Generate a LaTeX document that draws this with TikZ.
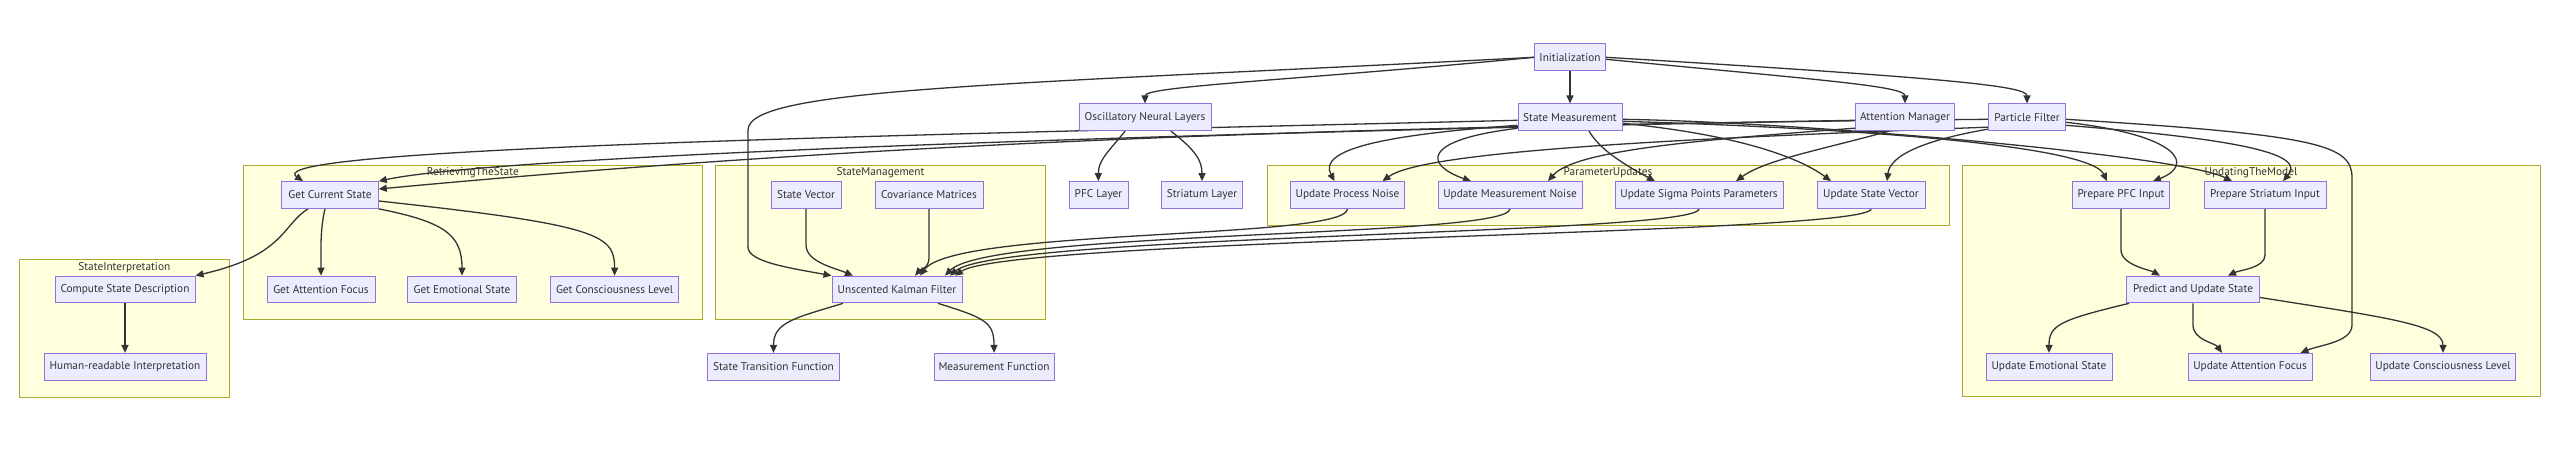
\documentclass[tikz,border=0pt]{standalone}
\usepackage{fontspec}
\setmainfont{PT Sans}
\usetikzlibrary{arrows.meta,calc}
\definecolor{nodefill}{HTML}{ECECFF}
\definecolor{nodeline}{HTML}{9370DB}
\definecolor{clusterfill}{HTML}{FFFFDE}
\definecolor{clusterline}{HTML}{AAAA33}
\definecolor{linkcol}{HTML}{333333}
\pgfdeclarelayer{clusters}
\pgfdeclarelayer{links}
\pgfsetlayers{clusters,links,main}
\begin{document}
\begin{tikzpicture}[x=1pt,y=-1pt,
        box/.style={draw=nodeline,fill=nodefill,line width=1pt,minimum height=26.7pt,
            inner xsep=2pt,inner ysep=0pt,text=linkcol,font=\fontsize{11.3}{13}\selectfont},
        link/.style={draw=linkcol,line width=1.3pt,-{Triangle[length=8pt,width=7pt]}},
        cluster/.style={draw=clusterline,fill=clusterfill,line width=1pt},
        clusterlabel/.style={text=linkcol,inner sep=0pt,font=\fontsize{11.3}{13}\selectfont}]
        \useasboundingbox (0,0) rectangle (2573,460);
        \node[box,minimum width=71] (init) at (1570,57.3) {Initialization};
        \node[box,minimum width=132] (onl) at (1145,117.3) {Oscillatory Neural Layers};
        \node[box,minimum width=104] (sm) at (1570,117.3) {State Measurement};
        \node[box,minimum width=99] (am) at (1905,117.3) {Attention Manager};
        \node[box,minimum width=77] (pf) at (2027,117.3) {Particle Filter};
        \node[box,minimum width=96.5] (gcs) at (330,195) {Get Current State};
        \node[box,minimum width=108] (gaf) at (321,289.5) {Get Attention Focus};
        \node[box,minimum width=108.5] (ges) at (462,289.5) {Get Emotional State};
        \node[box,minimum width=128] (gcl) at (614.6,289.5) {Get Consciousness Level};
        \node[box,minimum width=140] (csd) at (125,289.5) {Compute State Description};
        \node[box,minimum width=162] (hri) at (125,366.7) {Human-readable Interpretation};
        \node[box,minimum width=70] (sv) at (806,195) {State Vector};
        \node[box,minimum width=108] (cm) at (929,195) {Covariance Matrices};
        \node[box,minimum width=130] (ukf) at (897,289.5) {Unscented Kalman Filter};
        \node[box,minimum width=132] (stf) at (773.5,366.7) {State Transition Function};
        \node[box,minimum width=120] (mf) at (994,366.7) {Measurement Function};
        \node[box,minimum width=59] (pfcl) at (1098.5,195) {PFC Layer};
        \node[box,minimum width=81.5] (strl) at (1202,195) {Striatum Layer};
        \node[box,minimum width=114] (upn) at (1347.5,195) {Update Process Noise};
        \node[box,minimum width=144] (umn) at (1510,195) {Update Measurement Noise};
        \node[box,minimum width=168] (usp) at (1699,195) {Update Sigma Points Parameters};
        \node[box,minimum width=108] (usv) at (1871,195) {Update State Vector};
        \node[box,minimum width=97.5] (ppi) at (2121,195) {Prepare PFC Input};
        \node[box,minimum width=122] (psi) at (2265,195) {Prepare Striatum Input};
        \node[box,minimum width=133] (pus) at (2193,289.5) {Predict and Update State};
        \node[box,minimum width=126] (ues) at (2049,366.7) {Update Emotional State};
        \node[box,minimum width=124] (uaf) at (2250,366.7) {Update Attention Focus};
        \node[box,minimum width=145.5] (ucl) at (2443,366.7) {Update Consciousness Level};
        \begin{pgfonlayer}{clusters}
            \fill[white] (0,0) rectangle (2573,460);
            \draw[cluster] (243,165) rectangle (702.5,319.3);
            \draw[cluster] (19,259.3) rectangle (229.6,397.3);
            \draw[cluster] (715.5,165) rectangle (1045.6,319.3);
            \draw[cluster] (1267,165) rectangle (1949,225);
            \draw[cluster] (1962,165) rectangle (2540,396.7);
            \node[clusterlabel] (retrlabel) at (472.8,173) {RetrievingTheState};
            \node[clusterlabel] (interplabel) at (124.3,267.3) {StateInterpretation};
            \node[clusterlabel] (mgmtlabel) at (880.5,173) {StateManagement};
            \node[clusterlabel] (paramlabel) at (1608,173) {ParameterUpdates};
            \node[clusterlabel] (modellabel) at (2251,173) {UpdatingTheModel};
        \end{pgfonlayer}
        \begin{pgfonlayer}{links}
            \draw[link] (init) -- (sm);
            \draw[link] (init.west) .. controls (1300,80) and (1145,86) .. (onl.north);
            \draw[link] (init.west) .. controls (1000,85) and (748,88) .. (748,130) -- (748,247)
                .. controls (748,262) and (790,268) .. (ukf.north west);
            \draw[link] ($(init.east)+(0,2)$) .. controls (1820,80) and (1905,86) .. (am.north);
            \draw[link] (init.east) .. controls (1950,78) and (2027,86) .. (pf.north);
            \draw[link] ($(onl.south)+(-20,0)$) .. controls (1110,150) and (1098,160) .. (pfcl.north);
            \draw[link] ($(onl.south)+(26,0)$) .. controls (1195,150) and (1202,160) .. (strl.north);
            \draw[link] ($(sm.west)+(0,3)$) .. controls (900,135) and (255,148) .. ($(gcs.north)+(-27,0)$);
            \draw[link] ($(am.west)+(0,3)$) .. controls (1200,132) and (500,155) .. (gcs.north east);
            \draw[link] ($(pf.west)+(0,2)$) .. controls (1300,126) and (850,145) .. ($(gcs.east)+(0,-6)$);
            \draw[link] ($(sm.west)+(0,8)$) .. controls (1380,135) and (1318,150) .. ($(upn.north)+(-13,0)$);
            \draw[link] ($(sm.west)+(0,11)$) .. controls (1420,140) and (1425,165) .. ($(umn.north)+(-39,0)$);
            \draw[link] ($(sm.south)+(19,0)$) .. controls (1600,150) and (1625,165) .. ($(usp.north)+(-44,0)$);
            \draw[link] ($(sm.east)+(0,6)$) .. controls (1740,135) and (1800,158) .. ($(usv.north)+(-40,0)$);
            \draw[link] ($(am.south west)+(0,-3)$) .. controls (1700,140) and (1575,150) .. ($(umn.north)+(38,0)$);
            \draw[link] ($(pf.south west)+(0,-4)$) .. controls (1700,138) and (1425,150) .. ($(upn.north)+(35,0)$);
            \draw[link] ($(am.south)+(-16,0)$) .. controls (1820,150) and (1765,160) .. ($(usp.north)+(37,0)$);
            \draw[link] ($(pf.south west)+(0,-2)$) .. controls (1925,140) and (1890,155) .. ($(usv.north)+(16,0)$);
            \draw[link] ($(sm.east)+(0,4)$) .. controls (1850,128) and (2090,145) .. ($(ppi.north)+(-14,0)$);
            \draw[link] ($(sm.east)+(0,2)$) .. controls (1800,122) and (2180,155) .. ($(psi.north)+(-33,0)$);
            \draw[link] ($(pf.east)+(0,5)$) .. controls (2180,135) and (2195,165) .. ($(ppi.north)+(32,0)$);
            \draw[link] ($(pf.east)+(0,8)$) .. controls (2250,140) and (2305,155) .. ($(psi.north)+(18,0)$);
            \draw[link] ($(pf.east)+(0,2)$) .. controls (2320,135) and (2352,145) .. (2352,178) -- (2352,325)
                .. controls (2352,342) and (2320,345) .. ($(uaf.north east)+(-12,0)$);
            \draw[link] (ppi.south) -- (2121,250) .. controls (2121,265) and (2150,270) .. ($(pus.north)+(-33,0)$);
            \draw[link] (psi.south) -- (2265,255) .. controls (2265,268) and (2240,270) .. ($(pus.north)+(35,0)$);
            \draw[link] ($(pus.south west)+(3,0)$) .. controls (2060,320) and (2049,325) .. (ues.north);
            \draw[link] (pus.south) -- (2193,325) .. controls (2193,340) and (2215,343) .. ($(uaf.north)+(-28,0)$);
            \draw[link] ($(pus.east)+(0,8)$) .. controls (2390,318) and (2443,325) .. (ucl.north);
            \draw[link] ($(gcs.south)+(-22,0)$) .. controls (282,225) and (285,255) .. (csd.north east);
            \draw[link] ($(gcs.south)+(-5,0)$) .. controls (320,230) and (321,250) .. (gaf.north);
            \draw[link] (gcs.south east) .. controls (445,222) and (462,235) .. (ges.north);
            \draw[link] ($(gcs.east)+(0,6)$) .. controls (600,225) and (614.6,235) .. (gcl.north);
            \draw[link] (csd) -- (hri);
            \draw[link] (sv.south) -- (806,245) .. controls (806,262) and (835,268) .. ($(ukf.north)+(-44,0)$);
            \draw[link] (cm.south) -- (929,258) .. controls (929,268) and (920,270) .. ($(ukf.north)+(18,0)$);
            \draw[link] (upn.south) .. controls (1347,240) and (955,228) .. ($(ukf.north)+(23,0)$);
            \draw[link] (umn.south) .. controls (1510,238) and (990,230) .. ($(ukf.north)+(48,0)$);
            \draw[link] (usp.south) .. controls (1699,235) and (1000,234) .. ($(ukf.north)+(53,0)$);
            \draw[link] (usv.south) .. controls (1871,235) and (1010,238) .. ($(ukf.north)+(58,0)$);
            \draw[link] ($(ukf.south)+(-54,0)$) .. controls (795,318) and (773.5,322) .. (stf.north);
            \draw[link] ($(ukf.south)+(41,0)$) .. controls (985,318) and (994,322) .. (mf.north);
        \end{pgfonlayer}
    \end{tikzpicture}
\end{document}
